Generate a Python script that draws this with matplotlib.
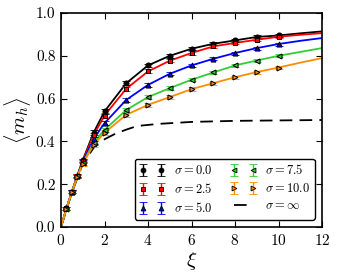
import numpy as np
import matplotlib
matplotlib.use("Agg")
import matplotlib.pyplot as plt

plt.rcParams['font.family'] = 'serif'
plt.rcParams['font.serif'] = ['cmr10']
plt.rcParams['mathtext.fontset'] = 'cm'
plt.rcParams['axes.formatter.use_mathtext'] = True

# measured points
xi = [0.25, 0.5, 0.75, 1.0, 1.5, 2, 3, 4, 5, 6, 7, 8, 9, 10]
m_s0 = [0.087, 0.165, 0.239, 0.312, 0.441, 0.540, 0.672, 0.755, 0.800, 0.833, 0.856, 0.872, 0.888, 0.895]
m_s25 = [0.087, 0.165, 0.239, 0.310, 0.429, 0.521, 0.646, 0.727, 0.777, 0.813, 0.844, 0.860, 0.875, 0.889]
m_s5 = [0.087, 0.165, 0.238, 0.305, 0.412, 0.485, 0.594, 0.664, 0.716, 0.755, 0.786, 0.813, 0.836, 0.855]
m_s75 = [0.086, 0.164, 0.236, 0.300, 0.394, 0.454, 0.547, 0.607, 0.649, 0.688, 0.722, 0.755, 0.778, 0.800]
m_s10 = [0.086, 0.163, 0.234, 0.295, 0.384, 0.441, 0.524, 0.571, 0.607, 0.644, 0.672, 0.700, 0.724, 0.745]
err = [0.006, 0.006, 0.007, 0.008, 0.010, 0.010, 0.010, 0.009, 0.008, 0.008, 0.007, 0.007, 0.007, 0.007]

# fitted curves
xi_fit = [0, 0.25, 0.5, 0.75, 1.0, 1.5, 2, 3, 4, 5, 6, 7, 8, 9, 10, 11, 12]
f_s0 = [0] + m_s0 + [0.905, 0.914]
f_s25 = [0] + m_s25 + [0.898, 0.906]
f_s5 = [0] + m_s5 + [0.870, 0.883]
f_s75 = [0] + m_s75 + [0.818, 0.836]
f_s10 = [0] + m_s10 + [0.768, 0.789]

xi_inf = [0, 0.5, 1.0, 1.5, 2, 2.5, 3, 3.5, 4.5, 5.5, 6, 8, 10, 12]
m_inf = [0, 0.160, 0.295, 0.370, 0.410, 0.436, 0.455, 0.472, 0.482, 0.488, 0.491, 0.496, 0.498, 0.500]

series = [
    (f_s0, m_s0, 'black', 'o', r'$\sigma=0.0$'),
    (f_s25, m_s25, 'red', 's', r'$\sigma=2.5$'),
    (f_s5, m_s5, 'blue', '^', r'$\sigma=5.0$'),
    (f_s75, m_s75, '#33cc33', '<', r'$\sigma=7.5$'),
    (f_s10, m_s10, '#ff8c00', '>', r'$\sigma=10.0$'),
]

fig = plt.figure(figsize=(3.39, 2.76), dpi=100)
ax = fig.add_axes([61 / 339, 1 - 227 / 276, 261 / 339, 214 / 276])

handles = []
for fit, pts, col, mk, lab in series:
    ax.plot(xi_fit, fit, color=col, lw=1.3, zorder=2)
    h = ax.errorbar(xi, pts, yerr=err, fmt=mk, color=col, mfc=col, mec='black',
                    mew=0.6, ms=3.5, ecolor=col, elinewidth=1.0, capsize=3,
                    label=lab, zorder=3)
    handles.append(h)
    ax.plot(xi, pts, ls='none', marker=mk, mfc=col, mec='black', mew=0.6, ms=3.5, zorder=4)

h_inf, = ax.plot(xi_inf, m_inf, 'k--', lw=1.3, dashes=(7, 4), label=r'$\sigma=\infty$', zorder=1)
handles.append(h_inf)

ax.set_xlim(0, 12)
ax.set_ylim(0, 1.0)
ax.set_xticks(np.arange(0, 13, 2))
ax.set_yticks(np.arange(0, 1.01, 0.2))
ax.set_yticklabels(['0.0', '0.2', '0.4', '0.6', '0.8', '1.0'])
ax.tick_params(direction='in', top=True, right=True, length=4, width=0.8, labelsize=11, pad=4)
for s in ax.spines.values():
    s.set_linewidth(1.2)

ax.set_xlabel(r'$\xi$', fontsize=15, labelpad=2)
ax.set_ylabel(r'$\langle m_h\rangle$', fontsize=15, labelpad=2)

leg = ax.legend(handles, [h.get_label() for h in handles], loc='lower right', ncol=2,
                numpoints=2, fontsize=9, frameon=True, fancybox=True,
                handlelength=2.1, handletextpad=0.7, columnspacing=1.4,
                labelspacing=0.4, borderpad=0.35, borderaxespad=0.6)
leg.get_frame().set_edgecolor('black')
leg.get_frame().set_linewidth(1.0)
leg.get_frame().set_alpha(1)

fig.savefig('out.png', dpi=100)
